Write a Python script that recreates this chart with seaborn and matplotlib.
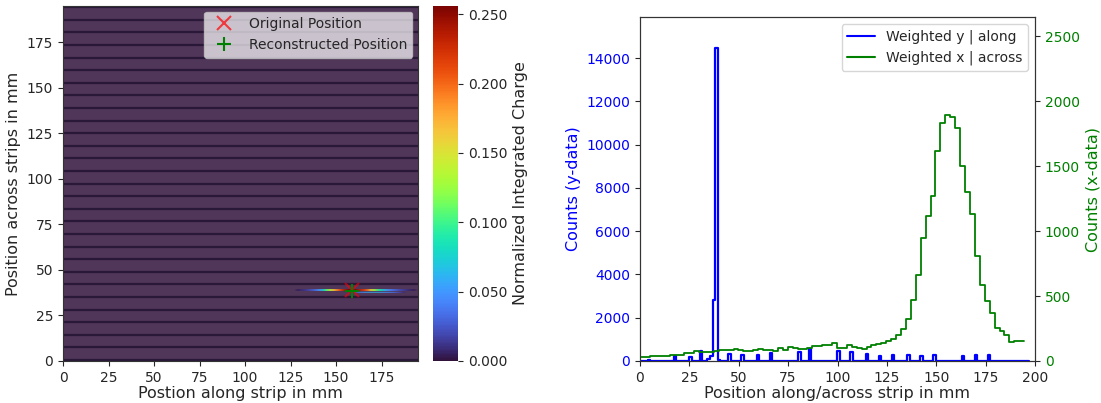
import numpy as np
import pandas as pd
import matplotlib
matplotlib.use("Agg")
import matplotlib.pyplot as plt
import seaborn as sns
from matplotlib.lines import Line2D
from matplotlib.colors import Normalize
from matplotlib.cm import ScalarMappable

# ---------------- data ----------------
# left panel: charge map (strip detector)
strip_pitch = 6.92          # mm
gap_offset = 0.58           # mm, first gap position
n_gaps = 29
hot_x = [129, 131, 133, 135, 137, 139, 141, 143, 145, 147, 149, 151, 153, 155, 157, 159, 161,
         163, 165, 167, 169, 171, 173, 175, 177, 179, 181, 183, 185, 187, 189, 191, 193]
hot_val = [0.004, 0.008, 0.012, 0.018, 0.025, 0.035, 0.05, 0.075, 0.11, 0.14, 0.17, 0.195, 0.22,
           0.24, 0.255, 0.256, 0.25, 0.235, 0.22, 0.2, 0.16, 0.13, 0.1, 0.08, 0.06, 0.045, 0.035,
           0.028, 0.02, 0.015, 0.01, 0.006, 0.004]
hot_rows_y = (38.5, 39.5)
low_x = [161, 163, 165, 167, 169, 171, 173, 175, 177, 179, 181, 183, 185, 187]
low_val = [0.03, 0.04, 0.05, 0.055, 0.06, 0.06, 0.06, 0.055, 0.05, 0.045, 0.04, 0.03, 0.02, 0.01]
low_row_y = (37.5, 38.0)
orig_pos = (158.6, 38.8)
reco_pos = (158.8, 38.6)

# right panel: histograms
blue_pos = [4.5, 17.7, 25.0, 31.2, 34.5, 35.8, 37.2, 38.5, 40.5, 45.6, 52.3, 59.2, 66.3, 80.2,
            86.6, 100.8, 107.5, 114.6, 121.0, 128.3, 135.3, 142.1, 149.0, 162.9, 169.8, 176.4]
blue_cnt = [60, 230, 170, 480, 80, 230, 2800, 14450, 60, 310, 290, 260, 350, 430,
            540, 460, 415, 310, 230, 290, 280, 230, 290, 230, 260, 290]
green_cnt = [33, 33, 41, 41, 38, 38, 46, 46, 46, 64, 59, 80, 67, 67, 72, 80, 85, 85, 85, 92,
             85, 74, 80, 85, 90, 85, 85, 80, 98, 85, 110, 103, 95, 95, 103, 115, 115, 123, 123,
             141, 98, 98, 123, 110, 98, 95, 110, 123, 128, 136, 157, 167, 200, 250, 325, 470,
             660, 950, 1117, 1271, 1618, 1831, 1893, 1882, 1797, 1502, 1304, 1130, 809, 585,
             462, 367, 252, 231, 200, 149, 157, 157]
blue_range = (0, 197)
blue_nbins = 150
green_range = (0, 194.5)

# ---------------- style ----------------
sns.set_style("ticks")
plt.rcParams['font.family'] = ['DejaVu Sans']
plt.rcParams['axes.edgecolor'] = '.2'
TICK_FS = 10
LAB_FS = 11.5

W, H = 1101, 403
fig = plt.figure(figsize=(W / 100, H / 100), dpi=100)
ax_img = fig.add_axes([63 / W, 1 - 361 / H, 355 / W, 355 / H])
cax = fig.add_axes([433 / W, 1 - 361 / H, 25 / W, 355 / H])
ax_h = fig.add_axes([640 / W, 1 - 361 / H, 395 / W, 344 / H])

# ---------------- left: charge map ----------------
x_res, y_res = 2.0, 0.5
nx, ny = 98, 390
Z = np.zeros((ny, nx))
hc = ((np.array(hot_x) - x_res / 2) / x_res).astype(int)
for r in range(int(hot_rows_y[0] / y_res), int(hot_rows_y[1] / y_res)):
    Z[r, hc] = hot_val
lc = ((np.array(low_x) - x_res / 2) / x_res).astype(int)
for r in range(int(low_row_y[0] / y_res), int(low_row_y[1] / y_res)):
    Z[r, lc] = low_val
vmax = max(hot_val)
alpha = np.where(Z > 0, 1.0, 0.85)
ax_img.imshow(Z, origin='lower', extent=(0, nx * x_res, 0, ny * y_res), cmap='turbo',
              vmin=0, vmax=vmax, aspect='auto', alpha=alpha, interpolation='bilinear')
gap_y = gap_offset + strip_pitch * np.arange(n_gaps)
ax_img.hlines(gap_y, 0, 196, colors='#2a1838', linewidth=1.6)
ax_img.plot(*orig_pos, 'x', color='red', ms=10, mew=1.5, alpha=0.6, ls='none')
ax_img.plot(*reco_pos, '+', color='green', ms=10, mew=1.5, ls='none')
ax_img.set_xlim(0, 195)
ax_img.set_ylim(0, 195)
ax_img.set_xticks(np.arange(0, 176, 25))
ax_img.set_yticks(np.arange(0, 176, 25))
ax_img.tick_params(labelsize=TICK_FS)
ax_img.set_xlabel('Postion along strip in mm', fontsize=LAB_FS, labelpad=1)
ax_img.set_ylabel('Position across strips in mm', fontsize=LAB_FS)
leg_h = [Line2D([], [], marker='x', color='red', alpha=0.7, ls='none', ms=10, mew=1.5),
         Line2D([], [], marker='+', color='green', ls='none', ms=10, mew=1.5)]
ax_img.legend(leg_h, ['Original Position', 'Reconstructed Position'], loc='upper right',
              fontsize=TICK_FS, framealpha=0.7, borderaxespad=0.4)

sm = ScalarMappable(norm=Normalize(0, vmax), cmap='turbo')
cb = fig.colorbar(sm, cax=cax)
cb.set_ticks(np.arange(0, 0.2501, 0.05))
cb.ax.set_yticklabels([f'{v:.3f}' for v in np.arange(0, 0.2501, 0.05)], fontsize=TICK_FS)
cb.outline.set_visible(False)
cb.set_label('Normalized Integrated Charge', fontsize=LAB_FS)

# ---------------- right: histograms ----------------
green_edges = np.linspace(green_range[0], green_range[1], len(green_cnt) + 1)
green_centers = (green_edges[:-1] + green_edges[1:]) / 2
df_blue = pd.DataFrame({'pos': blue_pos, 'cnt': blue_cnt})
df_green = pd.DataFrame({'pos': green_centers, 'cnt': green_cnt})

sns.histplot(data=df_blue, x='pos', weights='cnt', bins=blue_nbins, binrange=blue_range,
             element='step', fill=False, color='blue', linewidth=1.6, ax=ax_h)
ax2 = ax_h.twinx()
sns.histplot(data=df_green, x='pos', weights='cnt', bins=len(green_cnt), binrange=green_range,
             element='step', fill=False, color='green', linewidth=1.3, ax=ax2)

ax_h.set_xlim(0, 200)
ax_h.set_xticks(np.arange(0, 201, 25))
ax_h.set_ylim(0, 1.1 * max(blue_cnt))
ax_h.set_yticks(np.arange(0, 14001, 2000))
ax2.set_ylim(0, 1.4 * max(green_cnt))
ax2.set_yticks(np.arange(0, 2501, 500))
ax_h.tick_params(labelsize=TICK_FS)
ax_h.tick_params(axis='y', labelcolor='blue')
ax2.tick_params(axis='y', labelcolor='green', labelsize=TICK_FS)
ax_h.set_xlabel('Position along/across strip in mm', fontsize=LAB_FS, labelpad=1)
ax_h.set_ylabel('Counts (y-data)', color='blue', fontsize=LAB_FS)
ax2.set_ylabel('Counts (x-data)', color='green', fontsize=LAB_FS)
for s in ('top', 'right'):
    ax_h.spines[s].set_visible(True)
    ax2.spines[s].set_visible(True)

rh = [Line2D([], [], color='blue', lw=1.5), Line2D([], [], color='green', lw=1.5)]
ax2.legend(rh, ['Weighted y | along', 'Weighted x | across'], loc='upper right',
           fontsize=TICK_FS)

fig.savefig('out.png', dpi=100)
